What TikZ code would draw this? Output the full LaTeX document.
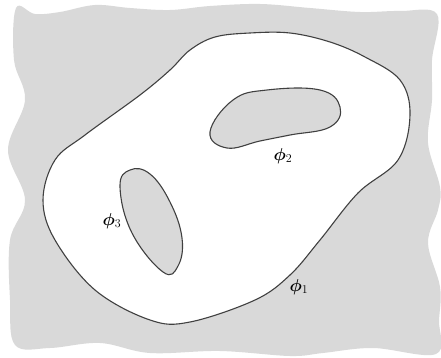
\documentclass[tikz,border=0pt]{standalone}
\usepackage{amsmath,bm}
\begin{document}
\begin{tikzpicture}[x=1pt,y=-1pt,
  paper/.style={fill=black!15},
  contour/.style={draw=black!75,line width=1.1pt},
  lbl/.style={font=\fontsize{18}{20}\selectfont,inner sep=0pt}]
\useasboundingbox (0,0) rectangle (441,358);
% grey sheet with wavy torn edges
\fill[paper] plot[smooth cycle,tension=0.6] coordinates {
 (16,8) (35,14) (60,12) (95,5) (130,8) (170,10) (210,6) (260,4) (310,8)
 (360,12) (400,11) (437,14)
 (432,60) (432,100) (428,143) (440,187) (438,210) (428,243) (440,287) (439,320) (436,354)
 (373,348) (323,353) (290,356) (220,351) (150,353) (100,343) (50,348) (15,345)
 (10,300) (10,240) (25,200) (8,150) (25,100) (14,60) };
% outer boundary phi_1
\path[fill=white,contour] plot[smooth cycle,tension=0.6] coordinates {
 (215,37) (250,33) (290,33) (330,42) (365,57) (400,80) (410,115) (398,160)
 (358,193) (320,240) (290,275) (255,300) (190,322) (150,320) (95,290)
 (55,240) (43,200) (55,160) (85,135) (140,95) (170,70) (190,50) };
% hole phi_2
\path[paper,contour] plot[smooth cycle,tension=0.7] coordinates {
 (210,132) (233,100) (267,90) (320,90) (340,107) (330,127) (290,135) (260,141)
 (227,148) };
% hole phi_3
\path[paper,contour] plot[smooth cycle,tension=0.7] coordinates {
 (130,170) (120,187) (132,233) (163,272) (178,266) (182,238) (170,202) (150,174) };
\node[lbl] (p1) at (299,287) {$\bm{\phi}_1$};
\node[lbl] (p2) at (283,156) {$\bm{\phi}_2$};
\node[lbl] (p3) at (112,221) {$\bm{\phi}_3$};
\end{tikzpicture}
\end{document}
